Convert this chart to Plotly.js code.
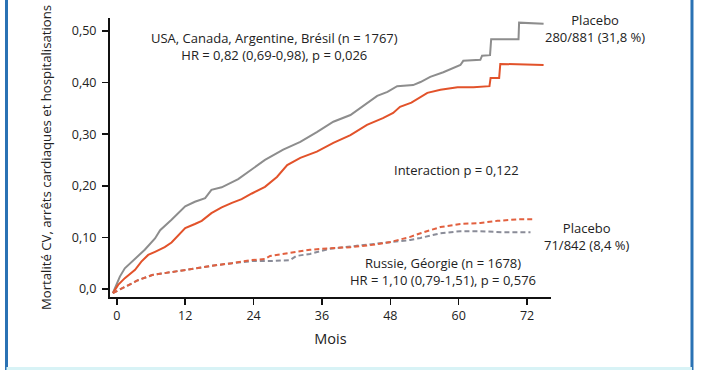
<!DOCTYPE html>
<html>
<head>
<meta charset="utf-8">
<script src="https://cdn.plot.ly/plotly-3.0.1.min.js"></script>
<style>
  html, body { margin: 0; padding: 0; background: #fff; }
  #chart { width: 702px; height: 370px; }
</style>
</head>
<body>
<div id="chart"></div>
<script>
// Months (x) and cumulative event rates (y)
const usaPlaceboMonths = [-0.7, 0.53, 1.4, 3.2, 4.9, 6.7, 7.6, 9.6, 12.0, 13.7, 15.5, 16.6, 18.4, 21.3, 23.7, 26.0, 29.2, 32.2, 35.1, 38, 41, 43.9, 45.7, 47.5, 49.2, 52, 53.3, 55, 57.3, 60.3, 60.8, 63.8, 64.1, 65.5, 65.7, 70.5, 70.6, 74.9];
const usaPlaceboRate   = [-0.008, 0.024, 0.040, 0.059, 0.076, 0.098, 0.114, 0.134, 0.160, 0.169, 0.176, 0.192, 0.197, 0.213, 0.231, 0.250, 0.270, 0.285, 0.304, 0.324, 0.337, 0.360, 0.374, 0.382, 0.393, 0.395, 0.401, 0.411, 0.420, 0.434, 0.442, 0.444, 0.452, 0.453, 0.484, 0.484, 0.516, 0.514];

const usaTreatMonths = [-0.7, 0.23, 1.4, 3.2, 4.3, 5.5, 6.7, 8.4, 9.6, 10.8, 12.0, 13.7, 14.9, 16.6, 18.4, 20.2, 21.9, 23.7, 26.0, 28.1, 29.9, 32.2, 35.1, 38, 41, 43.9, 46.7, 48.5, 49.7, 51.7, 54.5, 56.8, 59.8, 62.6, 65.4, 65.6, 67.1, 67.3, 74.9];
const usaTreatRate   = [-0.008, 0.008, 0.021, 0.037, 0.053, 0.066, 0.072, 0.081, 0.090, 0.105, 0.118, 0.126, 0.132, 0.147, 0.158, 0.167, 0.174, 0.185, 0.198, 0.217, 0.240, 0.254, 0.266, 0.283, 0.298, 0.318, 0.331, 0.341, 0.353, 0.361, 0.380, 0.386, 0.391, 0.391, 0.393, 0.409, 0.409, 0.436, 0.434];

const rusTreatMonths = [-0.7, 1.4, 3.7, 6.2, 9.7, 13.2, 16.7, 20.2, 23.7, 26.0, 26.9, 30.4, 33.9, 37.4, 41, 44.5, 48, 51.5, 53.3, 56.8, 60.3, 63.8, 66.8, 70.3, 73.1];
const rusTreatRate   = [-0.008, 0.004, 0.017, 0.027, 0.033, 0.040, 0.045, 0.050, 0.056, 0.058, 0.064, 0.070, 0.076, 0.079, 0.081, 0.085, 0.091, 0.101, 0.108, 0.120, 0.126, 0.128, 0.132, 0.135, 0.135];

const rusPlaceboMonths = [-0.7, 1.4, 3.7, 6.2, 9.7, 13.2, 16.7, 20.2, 23.7, 26.9, 30.4, 31.5, 33.9, 37.4, 41, 44.5, 48, 51.5, 53.3, 56.8, 60.3, 63.8, 67.8, 72.6];
const rusPlaceboRate   = [-0.008, 0.004, 0.017, 0.027, 0.033, 0.040, 0.045, 0.050, 0.054, 0.054, 0.056, 0.064, 0.068, 0.078, 0.082, 0.086, 0.090, 0.095, 0.099, 0.108, 0.112, 0.112, 0.110, 0.110];

const xTickVals = [0, 12, 24, 36, 48, 60, 72];
const xTickText = ['0', '12', '24', '36', '48', '60', '72'];
const yTickVals = [0, 0.1, 0.2, 0.3, 0.4, 0.5];
const yTickText = ['0,0', '0,10', '0,20', '0,30', '0,40', '0,50'];

const FONT = '"Open Sans", "Noto Sans", sans-serif';
const TXT = '#222';
const GREY = '#8d8d8d';
const ORANGE = '#e2522a';

const traces = [
  { x: usaPlaceboMonths, y: usaPlaceboRate, mode: 'lines', name: 'Placebo (USA, Canada, Argentine, Brésil)',
    line: { color: GREY, width: 2 } },
  { x: usaTreatMonths, y: usaTreatRate, mode: 'lines', name: 'Traitement (USA, Canada, Argentine, Brésil)',
    line: { color: ORANGE, width: 2 } },
  { x: rusPlaceboMonths, y: rusPlaceboRate, mode: 'lines', name: 'Placebo (Russie, Géorgie)',
    line: { color: '#8a8c98', width: 2, dash: '5px,3px' } },
  { x: rusTreatMonths, y: rusTreatRate, mode: 'lines', name: 'Traitement (Russie, Géorgie)',
    line: { color: '#e2603f', width: 2, dash: '5px,3px' } }
];

const ann = (x, y, text, xref, yref) => ({ x, y, xref: xref || 'x', yref: yref || 'y', text, showarrow: false,
  xanchor: 'center', yanchor: 'middle', align: 'center',
  font: { family: FONT, size: 13, color: TXT } });

const layout = {
  width: 702, height: 370,
  margin: { l: 110, r: 151, t: 18, b: 73 },
  paper_bgcolor: '#fff', plot_bgcolor: '#fff',
  showlegend: false,
  font: { family: FONT, size: 13, color: TXT },
  xaxis: {
    range: [-1.2, 76.2], tickvals: xTickVals, ticktext: xTickText,
    showgrid: false, zeroline: false, showline: true, linecolor: '#111', linewidth: 2,
    ticks: 'outside', ticklen: 6, tickwidth: 1.5, tickcolor: '#111',
    tickfont: { family: FONT, size: 12.5, color: TXT },
    title: { text: 'Mois', font: { family: FONT, size: 14.5, color: TXT }, standoff: 11 }
  },
  yaxis: {
    range: [-0.0155, 0.525], tickvals: yTickVals, ticktext: yTickText,
    showgrid: false, zeroline: false, showline: true, linecolor: '#111', linewidth: 2,
    ticks: 'outside', ticklen: 6, tickwidth: 1.5, tickcolor: '#111',
    ticklabelstandoff: 3,
    tickfont: { family: FONT, size: 12.5, color: TXT },
    title: { text: 'Mortalité CV, arrêts cardiaques et hospitalisations',
             font: { family: FONT, size: 13.2, color: TXT }, standoff: 17 }
  },
  annotations: [
    ann(27.6, 0.469, 'USA, Canada, Argentine, Brésil (n = 1767)<br>HR = 0,82 (0,69-0,98), p = 0,026'),
    ann(1.0998, 0.964, 'Placebo<br>280/881 (31,8 %)', 'paper', 'paper'),
    ann(59.6, 0.231, 'Interaction p = 0,122'),
    ann(1.0816, 0.2186, 'Placebo<br>71/842 (8,4 %)', 'paper', 'paper'),
    ann(57.3, 0.033, 'Russie, Géorgie (n = 1678)<br>HR = 1,10 (0,79-1,51), p = 0,576')
  ],
  shapes: [
    { type: 'line', xref: 'paper', yref: 'paper', x0: -0.2347, x1: -0.2347, y0: -0.27, y1: 1.07,
      line: { color: '#2a72b4', width: 3 } },
    { type: 'line', xref: 'paper', yref: 'paper', x0: 1.3197, x1: 1.3197, y0: -0.27, y1: 1.07,
      line: { color: '#2a72b4', width: 3 } },
    { type: 'line', xref: 'paper', yref: 'paper', x0: -0.2347, x1: 1.3197, y0: -0.2563, y1: -0.2563,
      line: { color: '#d8f3f6', width: 3 } }
  ]
};

Plotly.newPlot('chart', traces, layout, { staticPlot: true, displayModeBar: false });
</script>
</body>
</html>
